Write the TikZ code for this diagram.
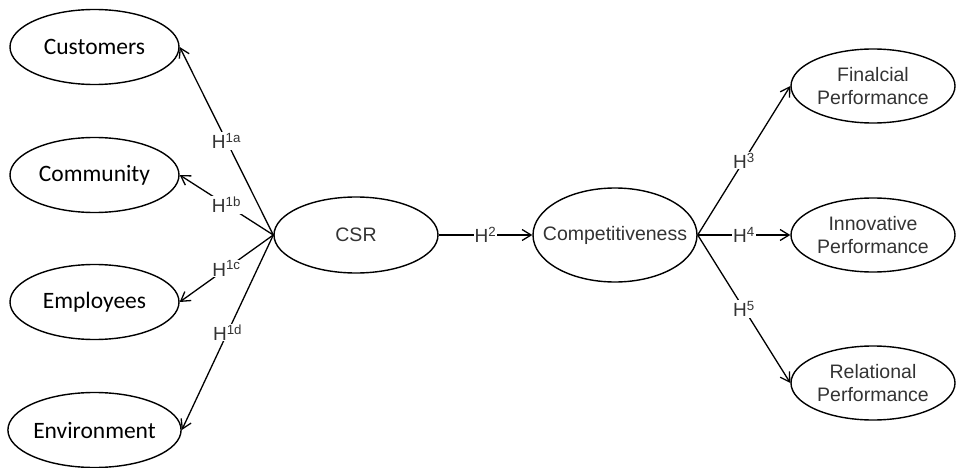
\documentclass[tikz,border=0pt]{standalone}
\usepackage{fontspec}
\setmainfont{Liberation Sans}
\newfontfamily\calfont{Carlito}
\usetikzlibrary{shapes.geometric,arrows.meta}
\definecolor{txtgray}{HTML}{333333}
\begin{document}
\begin{tikzpicture}[x=1pt,y=-1pt,
  lat/.style={ellipse,draw,line width=1.4pt,minimum width=169pt,minimum height=75pt,inner sep=0pt,font=\calfont\fontsize{23.5}{26}\selectfont},
  rat/.style={ellipse,draw,line width=1.4pt,minimum width=164pt,minimum height=74pt,inner sep=0pt,align=center,font=\fontsize{19.5}{23}\selectfont,text=txtgray},
  hyp/.style={fill=white,inner sep=1pt,font=\fontsize{19}{20}\selectfont,text=txtgray},
  arr/.style={-{Straight Barb[length=9pt,width=11pt]},line width=1.3pt}]
\useasboundingbox (0,0) rectangle (956,468);
\node[lat] (cus) at (94.5,47) {Customers};
\node[lat] (com) at (94.5,175) {Community};
\node[lat] (emp) at (94.5,302) {Employees};
\node[lat] (env) at (94.5,430) {Environment};
\node[rat,minimum height=76pt] (csr) at (356,235) {CSR};
\node[rat,minimum height=94pt] (cmp) at (615,235) {\makebox[0pt]{Competitiveness}};
\node[rat] (fin) at (873,86) {Finalcial\\Performance};
\node[rat] (inn) at (873,235) {Innovative\\Performance};
\node[rat] (rel) at (873,383) {Relational\\Performance};
\draw[arr] (csr.west) -- node[hyp]{H\textsuperscript{1a}} (cus.east);
\draw[arr] (csr.west) -- node[hyp]{H\textsuperscript{1b}} (com.east);
\draw[arr] (csr.west) -- node[hyp]{H\textsuperscript{1c}} (emp.east);
\draw[arr] (csr.west) -- node[hyp]{H\textsuperscript{1d}} (env.east);
\draw[arr] (csr.east) -- node[hyp]{H\textsuperscript{2}} (cmp.west);
\draw[arr] (cmp.east) -- node[hyp]{H\textsuperscript{3}} (fin.west);
\draw[arr] (cmp.east) -- node[hyp]{H\textsuperscript{4}} (inn.west);
\draw[arr] (cmp.east) -- node[hyp]{H\textsuperscript{5}} (rel.west);
\end{tikzpicture}
\end{document}
